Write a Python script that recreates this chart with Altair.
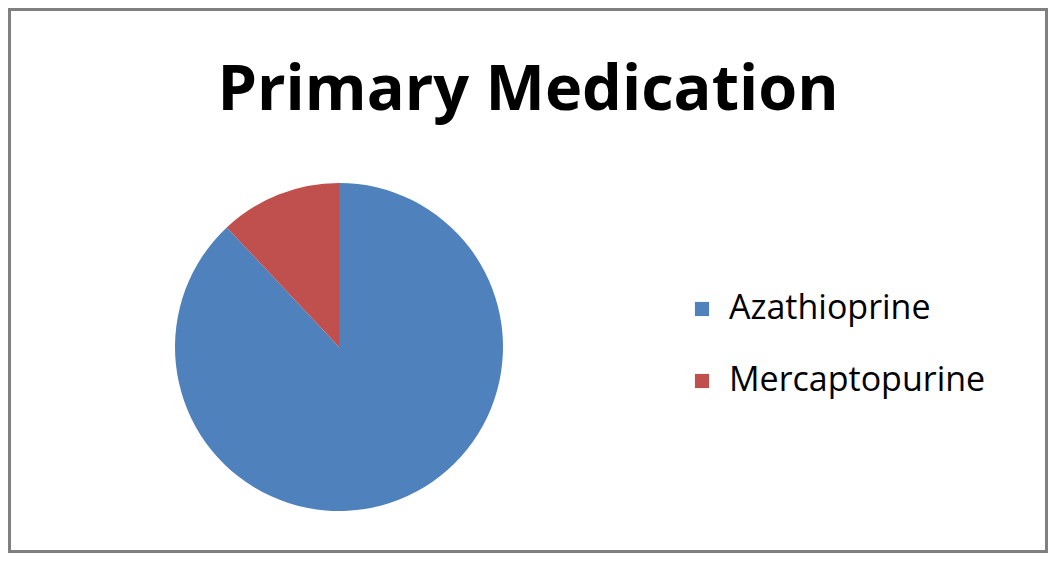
import altair as alt
import pandas as pd

categories = ["Azathioprine", "Mercaptopurine"]
shares = [88, 12]
colors = ["#4F81BD", "#C0504D"]
title_text = ["Primary Medication"]

df = pd.DataFrame({"med": categories, "share": shares, "ord": [0, 1]})
tdf = pd.DataFrame({"t": title_text})

W, H = 1040, 545

pie = alt.Chart(df).mark_arc(outerRadius=164).encode(
    theta=alt.Theta("share:Q", stack=True),
    order=alt.Order("ord:Q"),
    color=alt.Color(
        "med:N",
        scale=alt.Scale(domain=categories, range=colors),
        legend=alt.Legend(
            title=None,
            orient="none",
            legendX=677,
            legendY=284,
            symbolType="square",
            symbolSize=200,
            symbolStrokeWidth=0,
            labelFont="Open Sans",
            labelFontSize=34,
            labelColor="#000000",
            labelLimit=400,
            labelOffset=10,
            rowPadding=38,
        ),
    ),
    x=alt.value(331),
    y=alt.value(339),
)

title = alt.Chart(tdf).mark_text(
    font="Open Sans", fontSize=63, fontWeight="bold", color="#000000",
    align="center", baseline="alphabetic",
).encode(text="t:N", x=alt.value(520), y=alt.value(102))

border = alt.Chart(tdf).mark_rect(
    fill=None, stroke="#808080", strokeWidth=3
).encode(x=alt.value(1.5), x2=alt.value(W - 1.5), y=alt.value(1.5), y2=alt.value(H - 1.5))

chart = alt.layer(border, pie, title).properties(
    width=W, height=H, autosize=alt.AutoSizeParams(type="none"), padding=0,
    background="white",
).configure_view(stroke=None)

chart.save("out.html", embed_options={"renderer": "svg", "actions": False})
